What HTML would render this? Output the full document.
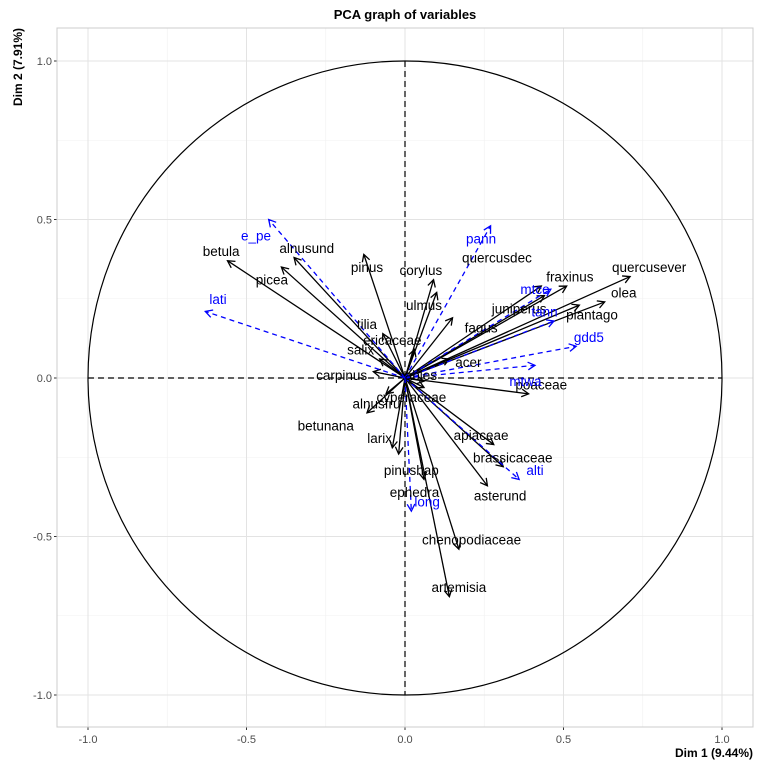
<!DOCTYPE html>
<html><head><meta charset="utf-8"><style>
body{margin:0;background:#fff}
svg{font-family:"Liberation Sans",sans-serif}
</style></head><body>
<svg id="c" width="768" height="768" viewBox="0 0 768 768">
<rect width="768" height="768" fill="#fff"/>
<g id="grid"></g>
<g id="circle"></g>
<g id="arrows"></g>
<g id="labels"></g>
<text x="405" y="19" text-anchor="middle" font-size="13" font-weight="bold">PCA graph of variables</text>
<text x="753" y="757" text-anchor="end" font-size="12" font-weight="bold">Dim 1 (9.44%)</text>
<text transform="translate(22,28) rotate(-90)" text-anchor="end" font-size="12" font-weight="bold">Dim 2 (7.91%)</text>
</svg>
<script>
const names=["quercusever","olea","plantago","fraxinus","quercusdec","juniperus","fagus","acer","poaceae","corylus","ulmus","pinus","tilia","ericaceae","salix","carpinus","abies","cyperaceae","alnusfru","betunana","larix","pinushap","apiaceae","brassicaceae","asterund","ephedra","chenopodiaceae","artemisia","betula","picea","alnusund"];
const dim1=[0.71,0.63,0.55,0.51,0.43,0.44,0.15,0.14,0.39,0.09,0.10,-0.13,-0.07,0.03,-0.08,-0.10,0.06,0.06,-0.06,-0.12,-0.04,-0.02,0.28,0.31,0.26,0.06,0.17,0.14,-0.56,-0.39,-0.35];
const dim2=[0.32,0.24,0.23,0.29,0.29,0.26,0.19,0.06,-0.05,0.31,0.27,0.39,0.14,0.09,0.06,0.02,-0.01,-0.03,-0.05,-0.11,-0.22,-0.24,-0.21,-0.28,-0.34,-0.32,-0.54,-0.69,0.37,0.35,0.38];
const labX=[0.77,0.69,0.59,0.52,0.29,0.36,0.24,0.20,0.43,0.05,0.06,-0.12,-0.12,-0.04,-0.14,-0.20,0.05,0.02,-0.09,-0.25,-0.08,0.02,0.24,0.34,0.30,0.03,0.21,0.17,-0.58,-0.42,-0.31];
const labY=[0.35,0.27,0.20,0.32,0.38,0.22,0.16,0.05,-0.02,0.34,0.23,0.35,0.17,0.12,0.09,0.01,0.01,-0.06,-0.08,-0.15,-0.19,-0.29,-0.18,-0.25,-0.37,-0.36,-0.51,-0.66,0.40,0.31,0.41];
const suppNames=["e_pe","lati","pann","mtco","tann","gdd5","mtwa","alti","long"];
const suppD1=[-0.43,-0.63,0.27,0.46,0.47,0.54,0.41,0.36,0.02];
const suppD2=[0.50,0.21,0.48,0.28,0.18,0.10,0.04,-0.32,-0.42];
const suppLX=[-0.47,-0.59,0.24,0.41,0.44,0.58,0.38,0.41,0.07];
const suppLY=[0.45,0.25,0.44,0.28,0.21,0.13,-0.01,-0.29,-0.39];
const xTicks=[-1,-0.5,0,0.5,1];
const yTicks=[-1,-0.5,0,0.5,1];
const xTickLabels=["-1.0","-0.5","0.0","0.5","1.0"];
const yTickLabels=["-1.0","-0.5","0.0","0.5","1.0"];
const minorTicks=[-0.75,-0.25,0.25,0.75];

const NS="http://www.w3.org/2000/svg";
const cx=405,cy=378,sc=317;
const L=57,R=753,T=28,B=727;
const X=v=>cx+v*sc, Y=v=>cy-v*sc;
function mk(tag,attrs,parent){const e=document.createElementNS(NS,tag);for(const k in attrs)e.setAttribute(k,attrs[k]);parent.appendChild(e);return e;}
const grid=document.getElementById('grid');
minorTicks.forEach(v=>{
 let a=mk('line',{x1:X(v),x2:X(v),y1:T,y2:B,stroke:'#f0f0f0','stroke-width':0.6},grid);
 
 
 let b=mk('line',{x1:L,x2:R,y1:Y(v),y2:Y(v),stroke:'#f0f0f0','stroke-width':0.6},grid);
 
 
});
xTicks.forEach((v,i)=>{
 let a=mk('line',{x1:X(v),x2:X(v),y1:T,y2:B,stroke:'#e3e3e3','stroke-width':1},grid);
 
 
 mk('line',{x1:X(v),x2:X(v),y1:B,y2:B+3,stroke:'#333','stroke-width':1},grid);
 let t=mk('text',{x:X(v),y:B+16,'text-anchor':'middle','font-size':11,fill:'#4d4d4d'},grid);
 t.textContent=xTickLabels[i];
 
 
});
yTicks.forEach((v,i)=>{
 let a=mk('line',{x1:L,x2:R,y1:Y(v),y2:Y(v),stroke:'#e3e3e3','stroke-width':1},grid);
 
 
 mk('line',{x1:L-3,x2:L,y1:Y(v),y2:Y(v),stroke:'#333','stroke-width':1},grid);
 let t=mk('text',{x:L-5,y:Y(v)+4,'text-anchor':'end','font-size':11,fill:'#4d4d4d'},grid);
 t.textContent=yTickLabels[i];
 
 
});
let pb=mk('rect',{x:L,y:T,width:R-L,height:B-T,fill:'none',stroke:'#ccc','stroke-width':1},grid);


const cg=document.getElementById('circle');
let ci=mk('circle',{cx:cx,cy:cy,r:sc,fill:'none',stroke:'#000','stroke-width':1.2},cg);


let h=mk('line',{x1:X(-1),x2:X(1),y1:cy,y2:cy,stroke:'#000','stroke-dasharray':'6,4','stroke-width':1.2},cg);


let v0=mk('line',{x1:cx,x2:cx,y1:Y(1),y2:Y(-1),stroke:'#000','stroke-dasharray':'6,4','stroke-width':1.2},cg);


const ag=document.getElementById('arrows'),lg=document.getElementById('labels');
function arrow(x,y,col,dash,name){
 const g=mk('g',{},ag);
 
 
 const x2=X(x),y2=Y(y);
 mk('line',{x1:cx,y1:cy,x2:x2,y2:y2,stroke:col,'stroke-width':1.3,'stroke-dasharray':dash},g);
 const ang=Math.atan2(y2-cy,x2-cx),len=8,sp=0.5;
 const p=`M${x2-len*Math.cos(ang-sp)},${y2-len*Math.sin(ang-sp)} L${x2},${y2} L${x2-len*Math.cos(ang+sp)},${y2-len*Math.sin(ang+sp)}`;
 mk('path',{d:p,fill:'none',stroke:col,'stroke-width':1.3},g);
}
function label(x,y,txt,col){
 const t=mk('text',{x:X(x),y:Y(y)+5,'text-anchor':'middle','font-size':13.5,fill:col},lg);
 t.textContent=txt;
 
 
}
names.forEach((n,i)=>{arrow(dim1[i],dim2[i],'#000','none',n);label(labX[i],labY[i],n,'#000');});
suppNames.forEach((n,i)=>{arrow(suppD1[i],suppD2[i],'#0000ff','5,4',n);label(suppLX[i],suppLY[i],n,'#0000ff');});
</script>
</body></html>
